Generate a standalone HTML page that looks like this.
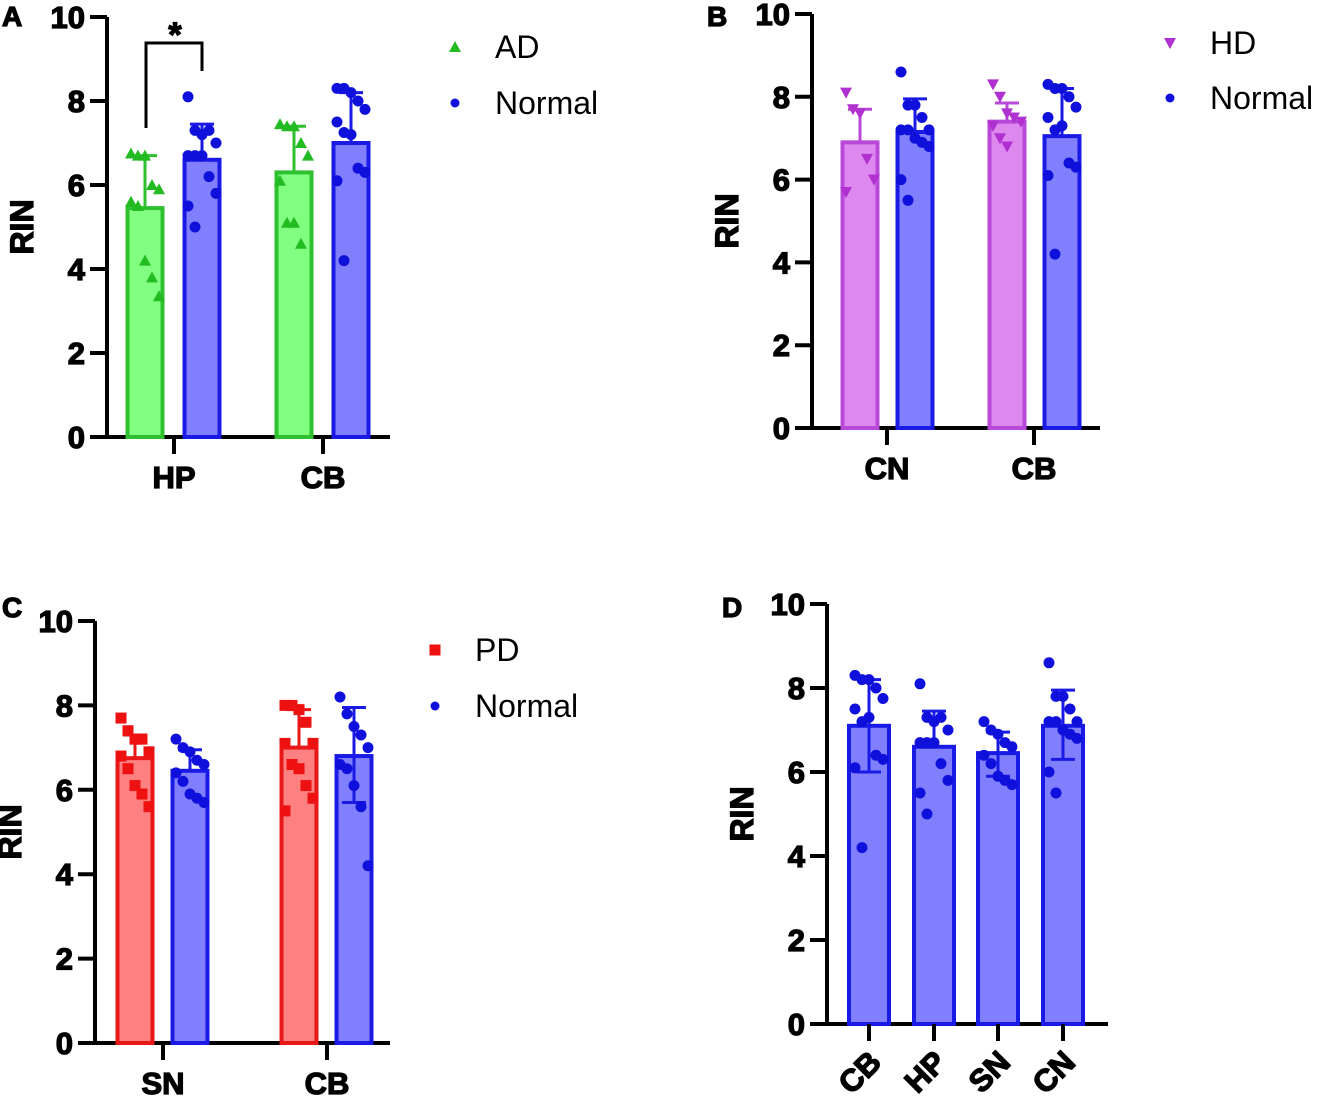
<!DOCTYPE html>
<html><head><meta charset="utf-8"><style>
body{margin:0;background:#fff}
svg{display:block;font-family:"Liberation Sans",Arial,sans-serif}
.b{font-weight:700;stroke:#000;stroke-width:1.3px}
</style></head><body>
<svg id="fig" width="1335" height="1112" viewBox="0 0 1335 1112"></svg>
<script>
// Panel A data
const aCats=["HP","CB"];
const aADMean=[5.45,6.3], aADErr=[6.7,7.4];
const aNMean=[6.6,7.0], aNErr=[7.45,8.2];
const aADPts=[[6.75,6.7,6.7,6.0,5.9,5.6,5.5,4.2,3.8,3.35],[7.45,7.4,7.4,7.0,6.7,6.1,5.1,5.1,4.6]];
const aNPts=[[8.1,7.3,7.2,7.3,7.0,6.7,6.7,6.7,6.2,5.8,5.5,5.0],[8.3,8.3,8.2,8.0,7.8,7.5,7.25,7.2,6.4,6.3,6.1,4.2]];
// Panel B data
const bCats=["CN","CB"];
const bHDMean=[6.9,7.4], bHDErr=[7.7,7.85];
const bNMean=[7.15,7.05], bNErr=[7.95,8.2];
const bHDPts=[[8.1,7.7,7.6,6.5,6.0,5.7],[8.3,8.0,7.6,7.5,7.4,7.3,7.0,6.8]];
const bNPts=[[8.6,7.8,7.8,7.5,7.2,7.2,7.2,7.0,6.9,6.8,6.0,5.5],[8.3,8.2,8.2,8.0,7.75,7.5,7.2,7.3,6.4,6.3,6.1,4.2]];
// Panel C data
const cCats=["SN","CB"];
const cPDMean=[6.75,7.0], cPDErr=[7.3,7.9];
const cNMean=[6.45,6.8], cNErr=[6.95,7.95], cNErrLo=[null,5.7];
const cPDPts=[[7.7,7.4,7.2,7.2,6.9,6.8,6.5,6.1,5.9,5.6],[8.0,8.0,7.9,7.6,7.1,7.1,6.6,6.5,6.1,5.8,5.5]];
const cNPts=[[7.2,7.0,6.9,6.7,6.6,6.4,6.2,5.9,5.8,5.7],[8.2,7.8,7.5,7.3,7.0,6.6,6.5,6.1,5.6,4.2]];
// Panel D data
const dCats=["CB","HP","SN","CN"];
const dMean=[7.1,6.6,6.45,7.1], dErrHi=[8.2,7.45,6.95,7.95], dErrLo=[6.0,null,5.9,6.3];
const dPts=[bNPts[1],aNPts[0],cNPts[0],bNPts[0]];
const yTicks=[0,2,4,6,8,10];

const NS="http://www.w3.org/2000/svg";
const svg=document.getElementById('fig');
function el(tag,attrs,parent,txt){const e=document.createElementNS(NS,tag);for(const k in attrs)e.setAttribute(k,attrs[k]);if(txt!==undefined)e.textContent=txt;(parent||svg).appendChild(e);return e;}

function axes(g,ax){
  const Y=v=>ax.y0-(ax.y0-ax.y10)*v/10;
  const a1=el('line',{x1:ax.x,y1:ax.y10,x2:ax.x,y2:ax.y0+2,stroke:'#000','stroke-width':4},g);
  
  
  const a2=el('line',{x1:ax.x-17,y1:ax.y0,x2:ax.xEnd,y2:ax.y0,stroke:'#000','stroke-width':4},g);
  
  
  yTicks.forEach(t=>{
    const l=el('line',{x1:ax.x-17,y1:Y(t),x2:ax.x,y2:Y(t),stroke:'#000','stroke-width':4},g);
    
    
    const tx=el('text',{x:ax.x-22,y:Y(t)+11,'text-anchor':'end','font-size':31,class:'b'},g,String(t));
    
    
  });
  const yt=el('text',{x:0,y:0,transform:`translate(${ax.x-74},${Y(5)}) rotate(-90)`,'text-anchor':'middle','font-size':32,class:'b'},g,'RIN');
  
  
  return Y;
}
function marker(g,type,cx,cy,color,s){
  let m;
  if(type==='circle') m=el('circle',{cx,cy,r:s||5.5,fill:color},g);
  else if(type==='tri') m=el('polygon',{points:`${cx},${cy-6} ${cx-6},${cy+5} ${cx+6},${cy+5}`,fill:color},g);
  else if(type==='tridown') m=el('polygon',{points:`${cx},${cy+6} ${cx-6},${cy-5} ${cx+6},${cy-5}`,fill:color},g);
  else m=el('rect',{x:cx-5.5,y:cy-5.5,width:11,height:11,fill:color},g);
  
  
}
function bar(g,Y,cx,w,mean,hi,lo,pts,fill,stroke,ptColor,type,name){
  const b=el('rect',{x:cx-w/2,y:Y(mean),width:w,height:Y(0)-Y(mean),fill,stroke,'stroke-width':4},g);
  
  
  const e=el('path',{d:`M${cx},${Y(mean)}V${Y(hi)}M${cx-12},${Y(hi)}H${cx+12}`+(lo!=null?`M${cx},${Y(mean)}V${Y(lo)}M${cx-12},${Y(lo)}H${cx+12}`:''),stroke:stroke,'stroke-width':3,fill:'none'},g);
  
  
  pts.forEach((v,i)=>{const off=((i%5)-2)*7;marker(g,type,cx+off,Y(v),ptColor);});
}
function xLabels(g,ax,Y,centers,cats,rot){
  centers.forEach((c,i)=>{
    const l=el('line',{x1:c,y1:ax.y0,x2:c,y2:ax.y0+17,stroke:'#000','stroke-width':4},g);
    
    
    let t;
    if(rot) t=el('text',{x:0,y:0,transform:`translate(${c+14},${ax.y0+40}) rotate(-45)`,'text-anchor':'end','font-size':31,class:'b'},g,cats[i]);
    else t=el('text',{x:c,y:ax.y0+51,'text-anchor':'middle','font-size':31,class:'b'},g,cats[i]);
    
    
  });
}
function legend(g,x,y,type,color,label){
  marker(g,type,x,y,color,4.5);
  const t=el('text',{x:x+40,y:y+11,'font-size':32},g,label);
  
  
}
function panelLetter(x,y,L){const t=el('text',{x,y,'font-size':28,class:'b'},svg,L);}

const G='#22bb22',GF='#80ff80',B='#1a1ae6',BF='#8080ff',BP='#1010dd';
// Panel A
{const g=el('g',{});
 const ax={x:107,y0:437,y10:17,xEnd:390};const Y=axes(g,ax);
 const gc=[174,323];
 gc.forEach((c,i)=>{bar(g,Y,c-29,35,aADMean[i],aADErr[i],null,aADPts[i],GF,'#2ec02e',G,'tri','bar-ad-'+aCats[i]);
  bar(g,Y,c+28,35,aNMean[i],aNErr[i],null,aNPts[i],BF,B,BP,'circle','bar-normal-'+aCats[i]);});
 xLabels(g,ax,Y,gc,aCats);
 const s=el('path',{d:`M146,128V43H202V71`,stroke:'#000','stroke-width':3,fill:'none'},g);
 const st=el('text',{x:175,y:46,'text-anchor':'middle','font-size':34,class:'b'},g,'*');
 legend(g,455,47,'tri',G,'AD');legend(g,455,103,'circle',BP,'Normal');}
// Panel B
{const g=el('g',{});
 const ax={x:812,y0:428,y10:14,xEnd:1100};const Y=axes(g,ax);
 const gc=[887,1034];
 gc.forEach((c,i)=>{bar(g,Y,c-27,35,bHDMean[i],bHDErr[i],null,bHDPts[i],'#dd88ee','#b848d8','#b030d0','tridown','bar-hd-'+bCats[i]);
  bar(g,Y,c+28,35,bNMean[i],bNErr[i],null,bNPts[i],BF,B,BP,'circle','bar-normal-'+bCats[i]);});
 xLabels(g,ax,Y,gc,bCats);
 legend(g,1170,43,'tridown','#b030d0','HD');legend(g,1170,98,'circle',BP,'Normal');}
// Panel C
{const g=el('g',{});
 const ax={x:95,y0:1043,y10:621,xEnd:390};const Y=axes(g,ax);
 const gc=[163,327];
 gc.forEach((c,i)=>{bar(g,Y,c-28,35,cPDMean[i],cPDErr[i],null,cPDPts[i],'#ff8080','#e81818','#ee1111','sq','bar-pd-'+cCats[i]);
  bar(g,Y,c+27,35,cNMean[i],cNErr[i],cNErrLo[i],cNPts[i],BF,B,BP,'circle','bar-normal-'+cCats[i]);});
 xLabels(g,ax,Y,gc,cCats);
 legend(g,435,650,'sq','#ee1111','PD');legend(g,435,706,'circle',BP,'Normal');}
// Panel D
{const g=el('g',{});
 const ax={x:827,y0:1024,y10:604,xEnd:1108};const Y=axes(g,ax);
 const gc=[869,934,998,1063];
 gc.forEach((c,i)=>bar(g,Y,c,40,dMean[i],dErrHi[i],dErrLo[i],dPts[i],BF,B,BP,'circle','bar-'+dCats[i]));
 xLabels(g,ax,Y,gc,dCats,true);}
panelLetter(2,26,'A');panelLetter(707,26,'B');panelLetter(2,617,'C');panelLetter(722,617,'D');
</script>
</body></html>
